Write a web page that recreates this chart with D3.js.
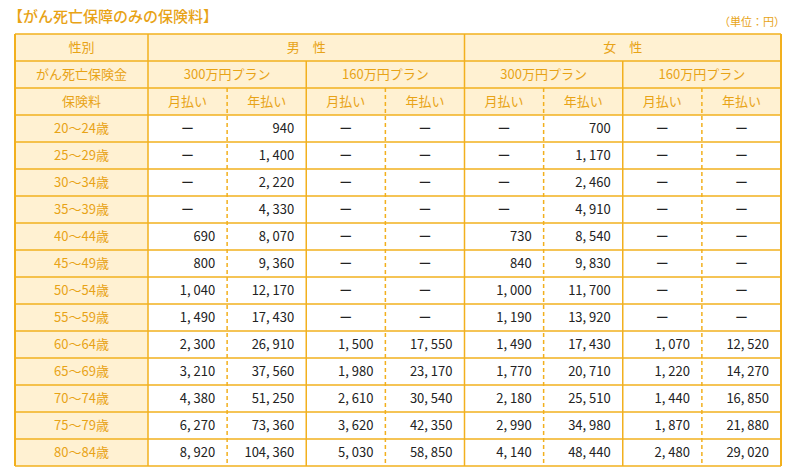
<!DOCTYPE html>
<html><head><meta charset="utf-8">
<script src="https://cdn.jsdelivr.net/npm/d3@7"></script>
<style>body{margin:0;background:#fff}svg{font-family:"Noto Sans CJK JP",sans-serif}</style>
</head><body><div id="chart"></div>
<script>
const width = 800, height = 470;
const orange = "#F2B01E", textOrange = "#E8A316", headBg = "#FFF1D2";
// data
const ages = ["20～24歳","25～29歳","30～34歳","35～39歳","40～44歳","45～49歳","50～54歳","55～59歳","60～64歳","65～69歳","70～74歳","75～79歳","80～84歳"];
const genders = ["男　性","女　性"];
const plans = ["300万円プラン","160万円プラン"];
const payTypes = ["月払い","年払い"];
const man300Month = [null,null,null,null,690,800,1040,1490,2300,3210,4380,6270,8920];
const man300Year = [940,1400,2220,4330,8070,9360,12170,17430,26910,37560,51250,73360,104360];
const man160Month = [null,null,null,null,null,null,null,null,1500,1980,2610,3620,5030];
const man160Year = [null,null,null,null,null,null,null,null,17550,23170,30540,42350,58850];
const woman300Month = [null,null,null,null,730,840,1000,1190,1490,1770,2180,2990,4140];
const woman300Year = [700,1170,2460,4910,8540,9830,11700,13920,17430,20710,25510,34980,48440];
const woman160Month = [null,null,null,null,null,null,null,null,1070,1220,1440,1870,2480];
const woman160Year = [null,null,null,null,null,null,null,null,12520,14270,16850,21880,29020];
const columns = [man300Month, man300Year, man160Month, man160Year, woman300Month, woman300Year, woman160Month, woman160Year];

const tLeft = 15, labelRight = 148, tRight = 781, tTop = 34, rowH = 27;
const x = d3.scaleLinear().domain([0, 8]).range([labelRight, tRight]);
const rowKeys = ["h0","h1","h2"].concat(ages);
const y = d3.scaleBand().domain(rowKeys).range([tTop, tTop + rowH * rowKeys.length]);
const fmt = v => d3.format(",")(v).replace(/,/g, ", ");

const svg = d3.select("#chart").append("svg").attr("width", width).attr("height", height);

svg.append("text").attr("x", 8).attr("y", 22).attr("fill", textOrange)
  .attr("font-size", 15).attr("font-weight", 500).text("【がん死亡保障のみの保険料】");
svg.append("text").attr("x", 785).attr("y", 26).attr("text-anchor", "end").attr("fill", textOrange)
  .attr("font-size", 11).text("（単位：円）");

// header backgrounds
svg.append("rect").attr("x", tLeft).attr("y", tTop).attr("width", tRight - tLeft).attr("height", rowH * 3).attr("fill", headBg);
svg.append("rect").attr("x", tLeft).attr("y", y(ages[0])).attr("width", labelRight - tLeft)
  .attr("height", rowH * ages.length).attr("fill", headBg);

const hText = (t, cx, cy, anchor = "middle", col = textOrange, size = 13) =>
  svg.append("text").attr("x", cx).attr("y", cy + rowH / 2).attr("dy", "0.36em")
    .attr("text-anchor", anchor).attr("fill", col).attr("font-size", size).text(t);

hText("性別", (tLeft + labelRight) / 2, y("h0"));
hText("がん死亡保険金", (tLeft + labelRight) / 2, y("h1"));
hText("保険料", (tLeft + labelRight) / 2, y("h2"));
genders.forEach((g, gi) => hText(g, (x(gi * 4) + x(gi * 4 + 4)) / 2, y("h0")));
for (let p = 0; p < 4; p++) hText(plans[p % 2], (x(p * 2) + x(p * 2 + 2)) / 2, y("h1"));
for (let c = 0; c < 8; c++) hText(payTypes[c % 2], (x(c) + x(c + 1)) / 2, y("h2"));
ages.forEach(a => hText(a, (tLeft + labelRight) / 2, y(a)));

// data cells
columns.forEach((col, c) => {
  col.forEach((v, r) => {
    if (v == null) hText("ー", (x(c) + x(c + 1)) / 2, y(ages[r]), "middle", "#222", 13);
    else hText(fmt(v), x(c + 1) - 12, y(ages[r]), "end", "#222", 13);
  });
});

// grid lines
const bottom = y(ages[ages.length - 1]) + rowH;
const line = (x1, y1, x2, y2, w = 1.5, dash = null) =>
  svg.append("line").attr("x1", x1).attr("y1", y1).attr("x2", x2).attr("y2", y2)
    .attr("stroke", orange).attr("stroke-width", w).attr("stroke-dasharray", dash);
rowKeys.forEach(k => line(tLeft, y(k), tRight, y(k)));
line(tLeft, bottom, tRight, bottom);
line(tLeft, tTop, tLeft, bottom, 2);
line(tRight, tTop, tRight, bottom, 2);
line(labelRight, tTop, labelRight, bottom);
line(x(4), tTop, x(4), bottom);
[2, 6].forEach(i => line(x(i), y("h1"), x(i), bottom));
[1, 3, 5, 7].forEach(i => line(x(i), y("h2"), x(i), bottom, 1.5, "4,3"));
</script></body></html>
